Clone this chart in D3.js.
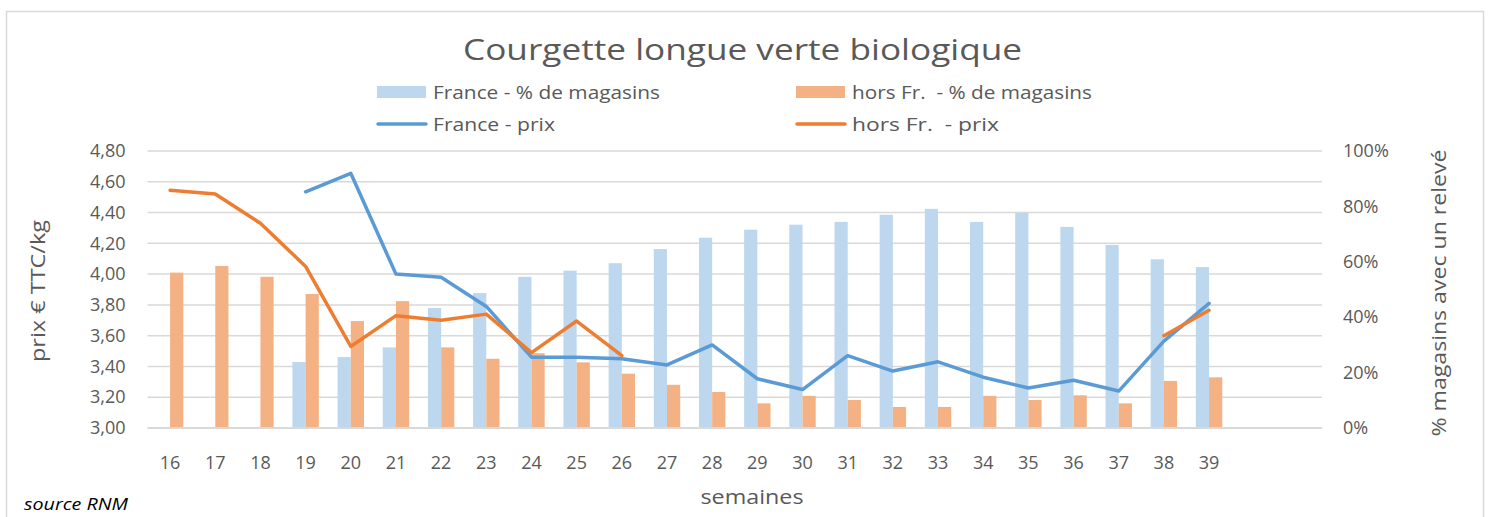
<!DOCTYPE html>
<html><head><meta charset="utf-8">
<script src="https://cdn.jsdelivr.net/npm/d3@7"></script>
<style>body{margin:0;background:#fff}svg{display:block;font-family:"Open Sans",sans-serif}</style>
</head><body>
<svg id="c" width="1492" height="517"></svg>
<script>
const weeks = ["16","17","18","19","20","21","22","23","24","25","26","27","28","29","30","31","32","33","34","35","36","37","38","39","",""];
const franceShare = [null,null,null,23.8,25.6,29.1,43.3,48.7,54.6,56.8,59.5,64.6,68.7,71.6,73.4,74.4,77.0,79.1,74.4,77.7,72.6,66.1,60.9,58.1,null,null];
const horsShare = [56.1,58.5,54.6,48.4,38.6,45.8,29.1,25.0,27.0,23.7,19.6,15.6,13.0,8.9,11.6,10.1,7.6,7.6,11.6,10.1,11.8,8.9,17.0,18.3,null,null];
const francePrice = [null,null,null,4.535,4.655,4.00,3.98,3.79,3.46,3.46,3.45,3.41,3.54,3.32,3.25,3.47,3.37,3.43,3.33,3.26,3.31,3.24,3.565,3.81,null,null];
const horsPrice = [4.545,4.52,4.33,4.05,3.53,3.73,3.70,3.74,3.49,3.695,3.47,null,null,null,null,null,null,null,null,null,null,null,3.60,3.765,null,null];
const priceTicks = [3.0,3.2,3.4,3.6,3.8,4.0,4.2,4.4,4.6,4.8];
const pctTicks = [0,20,40,60,80,100];

const svg = d3.select("#c");
const txt = "#595959";
const L = 147.5, R = 1322, T = 151, B = 428;

// border
svg.append("rect").attr("x",6.5).attr("y",11.5).attr("width",1477).attr("height",520)
  .attr("fill","none").attr("stroke","#d9d9d9").attr("stroke-width",1.5);

const x = d3.scaleBand().domain(d3.range(weeks.length)).range([L,R]);
const yP = d3.scaleLinear().domain([3,4.8]).range([B,T]);
const yS = d3.scaleLinear().domain([0,100]).range([B,T]);

// gridlines
svg.append("g").selectAll("line").data(priceTicks.slice(1)).join("line")
  .attr("x1",L).attr("x2",R).attr("y1",d=>yP(d)).attr("y2",d=>yP(d))
  .attr("stroke","#d9d9d9").attr("stroke-width",1.5);

// left axis
const la = svg.append("g").attr("transform",`translate(${L},0)`)
  .call(d3.axisLeft(yP).tickValues(priceTicks).tickSize(0).tickPadding(22)
    .tickFormat(d=>d3.format(".2f")(d).replace(".",",")));
la.select(".domain").remove();
la.selectAll("text").attr("fill",txt).style("font-size","18px").style("font-family","'Open Sans',sans-serif");

// right axis
const ra = svg.append("g").attr("transform",`translate(${R},0)`)
  .call(d3.axisRight(yS).tickValues(pctTicks).tickSize(0).tickPadding(21).tickFormat(d=>d+"%"));
ra.select(".domain").remove();
ra.selectAll("text").attr("fill",txt).style("font-size","18px").style("font-family","'Open Sans',sans-serif");

// bars
const bw = 13.2;
const bars = svg.append("g");
bars.selectAll(".fb").data(franceShare.map((v,i)=>({v,i})).filter(d=>d.v!=null)).join("rect")
  .attr("x",d=>x(d.i)+x.bandwidth()/2-bw).attr("width",bw)
  .attr("y",d=>yS(d.v)).attr("height",d=>B-yS(d.v)).attr("fill","#BDD7EE");
bars.selectAll(".hb").data(horsShare.map((v,i)=>({v,i})).filter(d=>d.v!=null)).join("rect")
  .attr("x",d=>x(d.i)+x.bandwidth()/2).attr("width",bw)
  .attr("y",d=>yS(d.v)).attr("height",d=>B-yS(d.v)).attr("fill","#F4B183");

// x axis line
svg.append("line").attr("x1",L).attr("x2",R).attr("y1",B).attr("y2",B)
  .attr("stroke","#d9d9d9").attr("stroke-width",2);

// x labels
const xa = svg.append("g").attr("transform",`translate(0,${B})`)
  .call(d3.axisBottom(x).tickSize(0).tickPadding(28).tickFormat(i=>weeks[i]));
xa.select(".domain").remove();
xa.selectAll("text").attr("fill",txt).style("font-size","18px").style("font-family","'Open Sans',sans-serif");

// lines
const line = d3.line().defined(d=>d!=null).x((d,i)=>x(i)+x.bandwidth()/2).y(d=>yP(d));
svg.append("path").datum(francePrice).attr("d",line).attr("fill","none")
  .attr("stroke","#5B9BD5").attr("stroke-width",3.5).attr("stroke-linejoin","round").attr("stroke-linecap","round");
svg.append("path").datum(horsPrice).attr("d",line).attr("fill","none")
  .attr("stroke","#ED7D31").attr("stroke-width",3.5).attr("stroke-linejoin","round").attr("stroke-linecap","round");

function fitText(sel, len){ sel.attr("textLength",len).attr("lengthAdjust","spacingAndGlyphs"); return sel; }

// title
fitText(svg.append("text").attr("x",463).attr("y",60).attr("fill",txt).style("font-size","29px")
  .text("Courgette longue verte biologique"), 559);

// legend
const leg = [
  {t:"France - % de magasins", type:"rect", c:"#BDD7EE", x:377, y:92, w:227},
  {t:"hors Fr.  - % de magasins", type:"rect", c:"#F4B183", x:796, y:92, w:240},
  {t:"France - prix", type:"line", c:"#5B9BD5", x:377, y:124, w:122},
  {t:"hors Fr.  - prix", type:"line", c:"#ED7D31", x:796, y:124, w:147}
];
leg.forEach(d=>{
  if(d.type==="rect") svg.append("rect").attr("x",d.x).attr("y",d.y-6).attr("width",49).attr("height",12).attr("fill",d.c);
  else svg.append("line").attr("x1",d.x+1).attr("x2",d.x+49).attr("y1",d.y).attr("y2",d.y)
    .attr("stroke",d.c).attr("stroke-width",3.5).attr("stroke-linecap","round");
  fitText(svg.append("text").attr("x",d.x+56).attr("y",d.y+6.5).attr("fill",txt).style("font-size","18px")
    .style("white-space","pre").attr("xml:space","preserve").text(d.t), d.w);
});

// axis titles
fitText(svg.append("text").attr("transform","translate(45,291) rotate(-90)").attr("text-anchor","middle")
  .attr("fill",txt).style("font-size","20px").text("prix € TTC/kg"), 142);
fitText(svg.append("text").attr("transform","translate(1446,293) rotate(-90)").attr("text-anchor","middle")
  .attr("fill",txt).style("font-size","20px").text("% magasins avec un relevé"), 287);
fitText(svg.append("text").attr("x",752).attr("y",504).attr("text-anchor","middle")
  .attr("fill",txt).style("font-size","20px").text("semaines"), 103);
fitText(svg.append("text").attr("x",24).attr("y",510).attr("fill","#000").style("font-size","16px").style("font-style","italic")
  .text("source RNM"), 104);
</script>
</body></html>
